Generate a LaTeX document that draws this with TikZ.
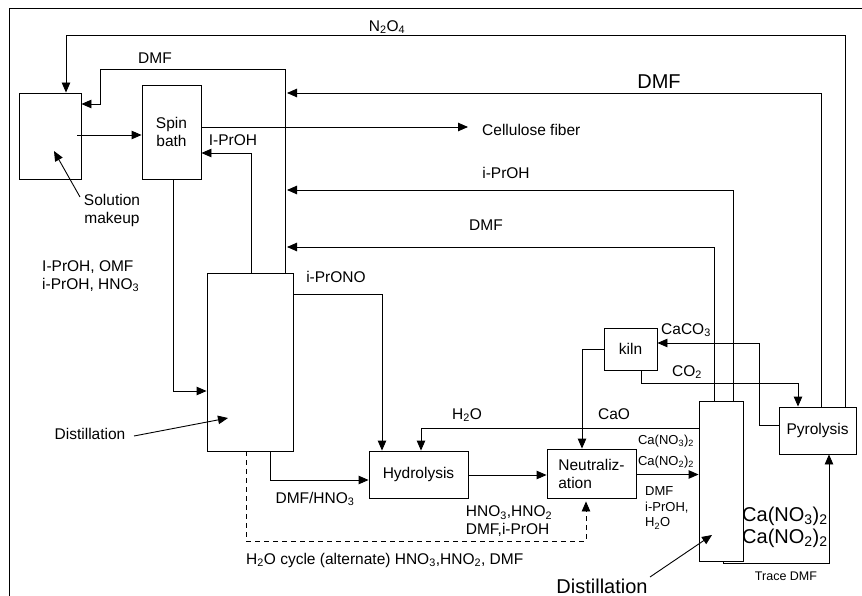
\documentclass[tikz,border=0pt]{standalone}
\usepackage{fontspec}
\setmainfont{Liberation Sans}
\usetikzlibrary{arrows.meta}
\begin{document}
\begin{tikzpicture}[x=1pt,y=-1pt,
 box/.style={draw, line width=0.9pt, inner sep=0pt, font=\fontsize{15.5}{18}\selectfont, align=center},
 flow/.style={line width=0.9pt, -{Triangle[length=10pt,width=8.5pt]}},
 plain/.style={line width=0.9pt},
 lbl/.style={inner sep=0pt, font=\fontsize{15.5}{18}\selectfont, align=center},
 sm/.style={inner sep=0pt, font=\fontsize{13}{15.5}\selectfont, align=left},
 tiny/.style={inner sep=0pt, font=\fontsize{12.5}{14}\selectfont},
 big/.style={inner sep=0pt, font=\fontsize{20}{22}\selectfont, align=left},
]
\useasboundingbox (0,0) rectangle (862,596);
% frame (clipped)
\draw[line width=1pt] (9,596) -- (9,9) -- (862,9);

% boxes
\node[box, minimum width=62pt, minimum height=86pt] (sol) at (50,136) {};
\node[box, minimum width=59pt, minimum height=94pt] (spin) at (171.5,132) {Spin\\bath};
\node[box, minimum width=86pt, minimum height=178pt] (d1) at (250,362) {};
\node[box, minimum width=99pt, minimum height=47pt] (hyd) at (418.5,474.5) {Hydrolysis};
\node[box, minimum width=89pt, minimum height=49pt, align=left] (neut) at (591.5,473.5) {Neutraliz-\\ation};
\node[box, minimum width=44pt, minimum height=160pt] (d2) at (721,481) {};
\node[box, minimum width=53pt, minimum height=42pt] (kiln) at (630.5,349) {kiln};
\node[box, minimum width=77pt, minimum height=47pt] (pyr) at (817.5,430.5) {Pyrolysis};

% free ends
\coordinate (tipA) at (287,93);
\coordinate (tipB) at (287,190);
\coordinate (tipC) at (287,247);
\coordinate (cfend) at (468,127);
\coordinate (smtail) at (80,197);
\coordinate (smtip) at (54,151);
\coordinate (d1tail) at (134,436);
\coordinate (d1tip) at (228,418);
\coordinate (d2tail) at (650,577);
\coordinate (d2tip) at (712,535);

% connectors
\draw[flow] (845,0 |- pyr.north) |- (66,35) -- (66,0 |- sol.north);
\draw[flow] (821,0 |- pyr.north) |- (tipA);
\draw[flow] (285.5,0 |- d1.north) |- (100,69) |- (sol.east |- 0,104);
\draw[flow] (spin.east |- 0,127) -- (cfend);
\draw[flow] (251,0 |- d1.north) |- (spin.east |- 0,153);
\draw[flow] (733,0 |- d2.north) |- (tipB);
\draw[flow] (714,0 |- d2.north) |- (tipC);
\draw[flow] ([xshift=-4pt]sol.east |- 0,135) -- (spin.west |- 0,135);
\draw[flow] (smtail) -- (smtip);
\draw[flow] (173,0 |- spin.south) |- (d1.west |- 0,391);
\draw[flow] (d1.east |- 0,294) -| (382,0 |- hyd.north);
\draw[flow] (d2.west |- 0,428) -| (421,0 |- hyd.north);
\draw[flow] (hyd.east |- 0,475) -- (neut.west |- 0,475);
\draw[flow] (neut.east |- 0,474.5) -- (d2.west |- 0,474.5);
\draw[flow] (kiln.west |- 0,349) -| (582,0 |- neut.north);
\draw[flow] (pyr.west |- 0,425) -| (759,343) -- (kiln.east |- 0,343);
\draw[flow] (641,0 |- kiln.south) |- (798,383) -- (798,0 |- pyr.north);
\draw[flow] (723,0 |- d2.south) |- (829,563) -- (829,0 |- pyr.south);
\draw[flow] (270,0 |- d1.south) |- (hyd.west |- 0,480);
\draw[flow, dash pattern=on 5pt off 4pt] (246,0 |- d1.south) |- (586,541) -- ([yshift=-3pt]586,0 |- neut.south);
\draw[flow] (d1tail) -- (d1tip);
\draw[flow] (d2tail) -- (d2tip);

% labels
\node[lbl] (n2o4) at (387,27) {N\textsubscript{2}O\textsubscript{4}};
\node[lbl] (dmfs) at (155,58) {DMF};
\node[big] (dmfb) at (659,82) {DMF};
\node[lbl, anchor=west] (cf) at (482,130) {Cellulose fiber};
\node[lbl] (ipr1) at (233,140) {I-PrOH};
\node[lbl] (ipr2) at (506,173) {i-PrOH};
\node[lbl] (dmfm) at (486,225) {DMF};
\node[lbl] (solm) at (112,210) {Solution\\makeup};
\node[lbl, align=left, anchor=west] (feed) at (42,276) {I-PrOH, OMF\\i-PrOH, HNO\textsubscript{3}};
\node[lbl] (ipono) at (336,277) {i-PrONO};
\node[lbl] (dist1) at (90,434) {Distillation};
\node[lbl] (dmfhno3) at (315,499) {DMF/HNO\textsubscript{3}};
\node[lbl, anchor=west] (h2ocyc) at (246,560) {H\textsubscript{2}O cycle (alternate) HNO\textsubscript{3},HNO\textsubscript{2}, DMF};
\node[lbl, align=left] (hno) at (509,521) {HNO\textsubscript{3},HNO\textsubscript{2}\\DMF,i-PrOH};
\node[lbl] (h2o) at (467,415) {H\textsubscript{2}O};
\node[lbl] (cao) at (614,414) {CaO};
\node[sm] (can3) at (666,441) {Ca(NO\textsubscript{3})\textsubscript{2}};
\node[sm] (can2) at (666,462) {Ca(NO\textsubscript{2})\textsubscript{2}};
\node[sm, anchor=west] (dmfsm) at (645,508) {DMF\\i-PrOH,\\H\textsubscript{2}O};
\node[big, anchor=west] (canb) at (742,527) {Ca(NO\textsubscript{3})\textsubscript{2}\\Ca(NO\textsubscript{2})\textsubscript{2}};
\node[tiny] (trace) at (786,576) {Trace DMF};
\node[big] (dist2) at (602,586) {Distillation};
\node[lbl] (caco3) at (686,330) {CaCO\textsubscript{3}};
\node[lbl] (co2) at (687,372) {CO\textsubscript{2}};
\end{tikzpicture}
\end{document}
